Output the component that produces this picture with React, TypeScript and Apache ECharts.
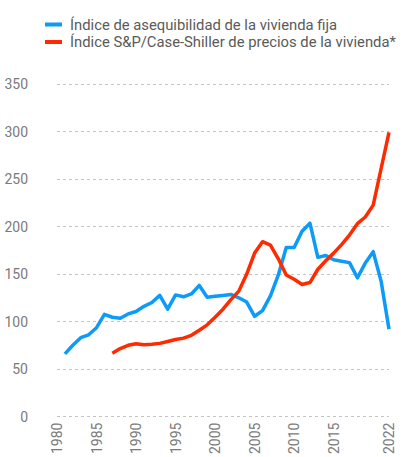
import React, { useEffect, useRef } from "react";
import * as echarts from "echarts";

const years: string[] = [];
for (let y = 1980; y <= 2022; y++) years.push(String(y));

const shownYears = ["1980", "1985", "1990", "1995", "2000", "2005", "2010", "2015", "2022"];

const seriesNames = [
  "Índice de asequibilidad de la vivienda fija",
  "Índice S&P/Case-Shiller de precios de la vivienda*",
];

// 1980..2022
const affordability: (number | null)[] = [
  null, 66, 75, 83, 86, 93.5, 107.5, 104.5, 103.5, 108,
  110.5, 116, 120, 127.5, 113, 128, 126, 129, 138, 125.5,
  126.5, 127.5, 128.5, 125, 120.5, 105.5, 111.5, 127, 149, 178,
  178, 195, 203.5, 167.5, 169.5, 165, 163.5, 162, 146, 161.5,
  173.5, 142.5, 92,
];

// 1980..2022
const caseShiller: (number | null)[] = [
  null, null, null, null, null, null, null, 66.5, 71.5, 75,
  76.5, 75.5, 76, 77, 79, 81, 82.5, 85.5, 90.8, 96.5,
  104.5, 113, 123, 132, 150, 172, 184, 180.5, 166, 149,
  144.5, 139, 141, 155, 164, 172, 181, 191, 203, 210,
  222.5, 261, 299,
];

const yTicks = { min: 0, max: 350, interval: 50 };

export default function App() {
  const ref = useRef<HTMLDivElement>(null);
  useEffect(() => {
    if (!ref.current) return;
    const chart = echarts.init(ref.current, undefined, { renderer: "svg" });
    const font = "Roboto, 'Noto Sans', sans-serif";
    chart.setOption({
      animation: false,
      backgroundColor: "#ffffff",
      textStyle: { fontFamily: font },
      legend: {
        orient: "vertical",
        left: 40,
        top: 12,
        itemWidth: 17,
        itemHeight: 4,
        itemGap: 2.5,
        icon: "rect",
        textStyle: { color: "#5a5a5a", fontSize: 14.8, fontFamily: font, padding: [0, 0, 0, 3] },
        data: seriesNames,
      },
      grid: { left: 57, right: 17, top: 84, bottom: 36.3, containLabel: false },
      xAxis: {
        type: "category",
        data: years,
        boundaryGap: false,
        axisLine: { show: false },
        axisTick: { show: false },
        axisLabel: {
          rotate: 90,
          margin: 6,
          color: "#7a7a7a",
          fontSize: 14,
          fontFamily: font,
          interval: (_i: number, v: string) => shownYears.includes(v),
        },
        splitLine: { show: false },
      },
      yAxis: {
        type: "value",
        min: yTicks.min,
        max: yTicks.max,
        interval: yTicks.interval,
        axisLine: { show: false },
        axisTick: { show: false },
        axisLabel: { color: "#7a7a7a", fontSize: 14, fontFamily: font, margin: 29 },
        splitLine: { lineStyle: { color: "#c4c4c4", type: [3, 3], width: 1 } },
      },
      series: [
        {
          name: seriesNames[0],
          type: "line",
          data: affordability,
          showSymbol: false,
          connectNulls: false,
          lineStyle: { color: "#0d9bf7", width: 3.5, join: "round" },
          itemStyle: { color: "#0d9bf7" },
        },
        {
          name: seriesNames[1],
          type: "line",
          data: caseShiller,
          showSymbol: false,
          connectNulls: false,
          lineStyle: { color: "#ff2a00", width: 3.5, join: "round" },
          itemStyle: { color: "#ff2a00" },
        },
      ],
    });
    return () => chart.dispose();
  }, []);
  return <div ref={ref} style={{ width: 406, height: 457, position: "absolute", left: 0, top: 0 }} />;
}
